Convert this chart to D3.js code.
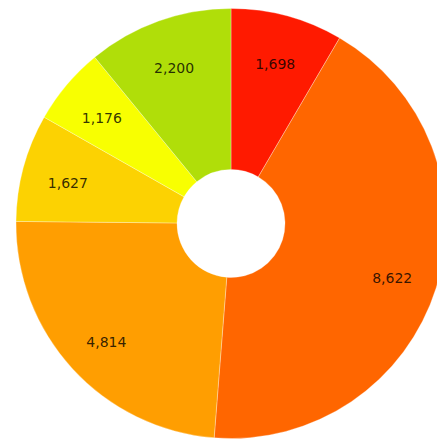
<!DOCTYPE html>
<html>
<head>
<meta charset="utf-8">
<script src="https://cdn.jsdelivr.net/npm/d3@7"></script>
<style>
    html, body { margin: 0; padding: 0; background: #fff; overflow: hidden; }
    svg { display: block; }
    .slice-label { font-family: "DejaVu Sans", Verdana, sans-serif; font-size: 14px; fill: #000; fill-opacity: 0.8; }
</style>
</head>
<body>
<div id="viz"></div>
<script>
'use strict';

var width = 437;
var height = 439;

// Slices, clockwise from 12 o'clock
var categories = ["A", "B", "C", "D", "E", "F"];
var values = [1698, 8622, 4814, 1627, 1176, 2200];
var slice_colors = ["#FF1A00", "#FF6600", "#FF9E01", "#FCD202", "#F8FF01", "#B0DE09"];

var cx = 231, cy = 223.5;
var outer_radius = 215;
var inner_radius = 54;
var label_radius = 169;
// labels sit a little below their centroid
var label_shift = 4;

var svg = d3.select("#viz")
    .append("svg")
    .attr("width", width)
    .attr("height", height);

var g = svg.append("g")
    .attr("transform", "translate(" + cx + "," + cy + ")");

var pie = d3.pie()
    .sort(null)
    .value(d => d.value);

var data = categories.map((c, i) => ({name: c, value: values[i], color: slice_colors[i]}));

var arc = d3.arc()
    .innerRadius(inner_radius)
    .outerRadius(outer_radius);

var label_arc = d3.arc()
    .innerRadius(label_radius)
    .outerRadius(label_radius);

var arcs = pie(data);

g.selectAll("path.slice")
    .data(arcs)
    .enter()
    .append("path")
    .attr("class", "slice")
    .attr("d", arc)
    .attr("fill", d => d.data.color)
    .attr("stroke", "#fff")
    .attr("stroke-opacity", 0.3)
    .attr("stroke-width", 1);

var fmt = d3.format(",");

g.selectAll("text.slice-label")
    .data(arcs)
    .enter()
    .append("text")
    .attr("class", "slice-label")
    .attr("transform", d => {
        var c = label_arc.centroid(d);
        return "translate(" + c[0] + "," + (c[1] + label_shift) + ")";
    })
    .attr("text-anchor", "middle")
    .attr("dy", "0.35em")
    .text(d => fmt(d.data.value));
</script>
</body>
</html>
